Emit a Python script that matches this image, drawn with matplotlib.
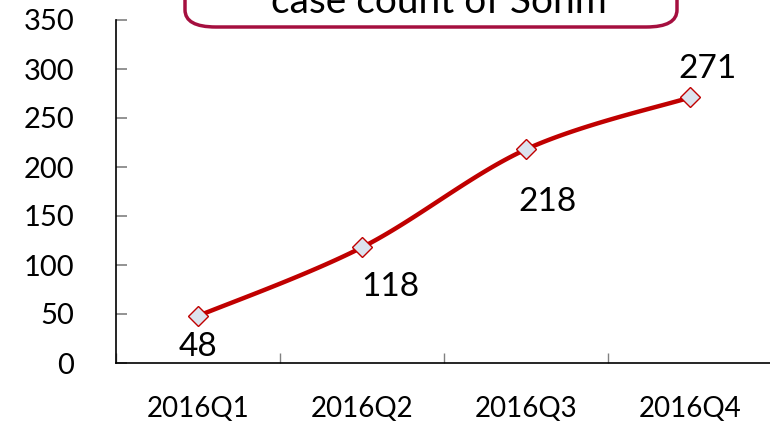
import numpy as np
import matplotlib
matplotlib.use("Agg")
import matplotlib.pyplot as plt
from matplotlib.patches import FancyBboxPatch

categories = ["2016Q1", "2016Q2", "2016Q3", "2016Q4"]
values = [48, 118, 218, 271]
title = "case count of Sohm"
yticks = [0, 50, 100, 150, 200, 250, 300, 350]

plt.rcParams['font.family'] = ['Lato', 'DejaVu Sans']

fig = plt.figure(figsize=(7.7, 4.28), dpi=100)
ax = fig.add_axes([116/770, 1-363/428, 656/770, 343/428])

x = np.arange(len(values), dtype=float)
y = np.array(values, dtype=float)

# smooth curve (Catmull-Rom style Bezier as Excel's smoothed line)
def smooth(xp, yp, n=40):
    pts = np.column_stack([xp, yp])
    out = []
    for i in range(len(pts) - 1):
        p0 = pts[i-1] if i > 0 else pts[i]
        p1 = pts[i]
        p2 = pts[i+1]
        p3 = pts[i+2] if i + 2 < len(pts) else pts[i+1]
        c1 = p1 + (p2 - p0) / 6
        c2 = p2 - (p3 - p1) / 6
        t = np.linspace(0, 1, n)[:, None]
        seg = (1-t)**3*p1 + 3*(1-t)**2*t*c1 + 3*(1-t)*t**2*c2 + t**3*p2
        out.append(seg if i == 0 else seg[1:])
    s = np.vstack(out)
    return s[:, 0], s[:, 1]

sx, sy = smooth(x, y)
ax.plot(sx, sy, color="#c00000", lw=3.2, solid_capstyle="round", zorder=2)
ax.plot(x, y, linestyle="none", marker="D", markersize=10,
        markerfacecolor="#dce3ee", markeredgecolor="#c00000", markeredgewidth=1, zorder=3)

label_offsets = [(0, -31), (28, -40), (21, -53), (18, 28)]  # pixels
for xi, yi, v, (dx, dy) in zip(x, y, values, label_offsets):
    ax.annotate(str(v), (xi, yi), xytext=(dx*0.72, dy*0.72), textcoords="offset points",
                ha="center", va="center", fontsize=24, color="black")

ax.set_xlim(-0.5, 3.5)
ax.set_ylim(0, 350)
ax.set_yticks(yticks)
ax.set_yticklabels([str(t) for t in yticks], fontsize=21)
ax.set_xticks(x)
ax.set_xticklabels(categories, fontsize=20)
ax.set_xticks([-0.5, 0.5, 1.5, 2.5], minor=True)

ax.tick_params(axis="y", direction="in", length=8, width=1.2, color="#808080", pad=30)
ax.tick_params(axis="x", which="major", length=0, pad=24)
ax.tick_params(axis="x", which="minor", direction="in", length=7, width=1, color="#808080")

for s in ["top", "right"]:
    ax.spines[s].set_visible(False)
ax.spines["left"].set_linewidth(1.2)
ax.spines["bottom"].set_linewidth(1.2)

# title box (partly cut off at the top, as in the reference)
box = FancyBboxPatch((185/770, 1-27/428), (677-185)/770, 0.2,
                     boxstyle="round,pad=0,rounding_size=0.04",
                     transform=fig.transFigure, facecolor="white",
                     edgecolor="#a50f3f", linewidth=2.5, zorder=5)
fig.patches.append(box)
fig.text(439/770, 1-2/428, title, ha="center", va="center", fontsize=28, color="black", zorder=6)

fig.savefig("out.png", dpi=100)
